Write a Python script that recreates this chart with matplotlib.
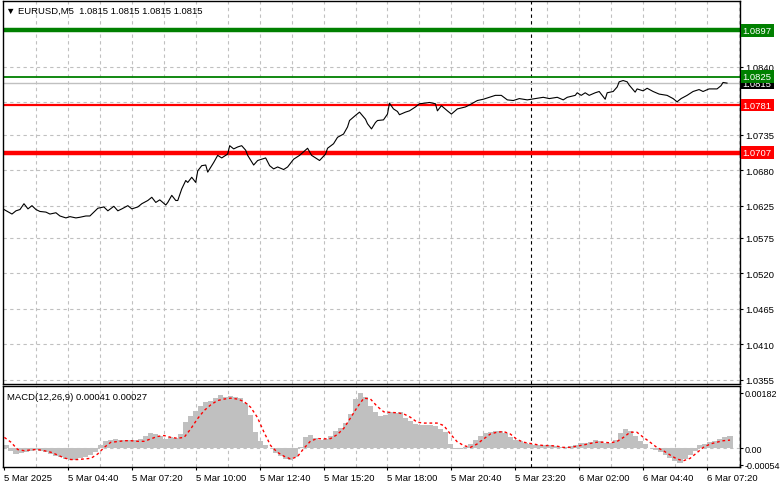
import matplotlib.pyplot as plt
import numpy as np

plt.rcParams['font.family'] = ['Liberation Sans', 'DejaVu Sans']
plt.rcParams['axes.unicode_minus'] = False

# EURUSD M5 - x is bar index counted from the first bar (5 Mar 02:00), 1 bar = 5 min
price_t = [0, 4, 6, 8, 10, 12, 14, 16, 18, 21, 23, 26, 28, 31, 33, 36, 38, 41, 43, 45,
           47, 50, 52, 55, 57, 59, 62, 64, 67, 69, 72, 74, 76, 78, 81, 82, 84, 86, 87, 89,
           91, 92, 94, 96, 97, 99, 101, 102, 105, 107, 109, 112, 113, 115, 117, 119, 121,
           122, 125, 127, 131, 133, 135, 137, 140, 142, 145, 148, 152, 154, 157, 158, 161, 162, 165, 167, 170,
           172, 173, 176, 178, 181, 182, 184, 186, 187, 190, 192, 193, 195, 197, 198, 201, 203, 206, 208, 211,
           213, 216, 217, 219, 222, 224, 227, 231, 233, 237, 240, 243,
           246, 249, 252, 255, 258, 262, 266, 270, 273, 277, 280, 282, 286, 287, 289, 291, 293, 296, 298, 301,
           302, 305, 307, 308, 310, 312, 313, 316, 317, 320, 322, 325, 328, 332, 335, 337, 339, 342, 345, 348,
           350, 353, 357, 359, 360, 362]
price = [1.0619, 1.0612, 1.0617, 1.0619, 1.0628, 1.0620, 1.0625, 1.0619, 1.0616, 1.0615,
         1.0612, 1.0614, 1.0609, 1.0606, 1.0608, 1.0606, 1.0607, 1.0609, 1.0609, 1.0615,
         1.0621, 1.0623, 1.0617, 1.0624, 1.0617, 1.0620, 1.0625, 1.0620, 1.0623, 1.0628,
         1.0633, 1.0638, 1.0630, 1.0634, 1.0626, 1.0630, 1.0641, 1.0633, 1.0633, 1.0651,
         1.0664, 1.0661, 1.0669, 1.0661, 1.0679, 1.0687, 1.0688, 1.0677, 1.0692, 1.0703,
         1.0699, 1.0705, 1.0718, 1.0713, 1.0716, 1.0718, 1.0711,
         1.0703, 1.0688, 1.0695, 1.0699, 1.0687, 1.0682, 1.0685, 1.0681, 1.0685, 1.0697,
         1.0703, 1.0714, 1.0703, 1.0697, 1.0695, 1.0705, 1.0714, 1.0721, 1.0731, 1.0736,
         1.0747, 1.0757, 1.0765, 1.0770, 1.0759, 1.0752, 1.0744, 1.0754, 1.0757, 1.0758,
         1.0767, 1.0784, 1.0775, 1.0771, 1.0766, 1.0770, 1.0772, 1.0778, 1.0783, 1.0784,
         1.0785, 1.0783, 1.0772, 1.0780, 1.0772, 1.0767, 1.0775, 1.0778, 1.0781, 1.0788,
         1.0790, 1.0793,
         1.0796, 1.0796, 1.0789, 1.0788, 1.0791, 1.0789, 1.0791, 1.0793, 1.0791, 1.0793,
         1.0789, 1.0793, 1.0796, 1.0800, 1.0796, 1.0800, 1.0796, 1.0800, 1.0802, 1.0790,
         1.0800, 1.0802, 1.0809, 1.0817, 1.0819, 1.0817, 1.0812, 1.0801, 1.0806, 1.0803,
         1.0807, 1.0802, 1.0798, 1.0796, 1.0791, 1.0786, 1.0791, 1.0796, 1.0802, 1.0805,
         1.0802, 1.0806, 1.0806, 1.0811, 1.0816, 1.0815]

# MACD(12,26,9) main (histogram), sampled every 2.5 bars
macd_main = [0.00012, -0.00008, -0.00019, -0.00015, -0.00011, -0.00008, -0.00005, -0.00008, -0.00013, -0.00019,
             -0.00024, -0.00030, -0.00035, -0.00037, -0.00037, -0.00033, -0.00030, -0.00022, -0.00011, 0.00012,
             0.00024, 0.00028, 0.00030, 0.00027, 0.00026, 0.00027, 0.00026, 0.00030, 0.00039, 0.00050,
             0.00047, 0.00039, 0.00031, 0.00036, 0.00034, 0.00047, 0.00088, 0.00105, 0.00124, 0.00140,
             0.00151, 0.00156, 0.00165, 0.00174, 0.00170, 0.00172, 0.00170, 0.00165, 0.00148, 0.00108,
             0.00055, 0.00025, 0.00012, 0.00001, -0.00014, -0.00026, -0.00035, -0.00040, -0.00030, 0.00003,
             0.00036, 0.00044, 0.00033, 0.00026, 0.00031, 0.00040, 0.00056, 0.00068, 0.00082, 0.00112,
             0.00162, 0.00182, 0.00168, 0.00140, 0.00118, 0.00105, 0.00110, 0.00118, 0.00115, 0.00118,
             0.00099, 0.00091, 0.00080, 0.00077, 0.00077, 0.00077, 0.00075, 0.00064, 0.00053, 0.00015,
             -0.00001, -0.00001, 0.00003, 0.00015, 0.00028, 0.00042, 0.00051, 0.00054, 0.00057, 0.00057,
             0.00050, 0.00038, 0.00027, 0.00023, 0.00018, 0.00015, 0.00012, 0.00011, 0.00011, 0.00010,
             0.00006, 0.00004, 0.00003, 0.00007, 0.00012, 0.00017, 0.00019, 0.00022, 0.00026, 0.00024,
             0.00016, 0.00017, 0.00028, 0.00050, 0.00064, 0.00058, 0.00040, 0.00025, 0.00013, 0.00002,
             -0.00006, -0.00013, -0.00021, -0.00032, -0.00043, -0.00049, -0.00035, -0.00022, -0.00008, 0.00011,
             0.00014, 0.00022, 0.00025, 0.00029, 0.00036, 0.00041]

# signal line, sampled every 10/3 bars
macd_signal = [0.00036, 0.00020, -0.00004, -0.00008, -0.00005, -0.00004, -0.00008, -0.00013, -0.00022, -0.00032,
               -0.00037, -0.00037, -0.00035, -0.00033, -0.00019, 0.00003, 0.00020, 0.00022, 0.00025, 0.00025,
               0.00023, 0.00023, 0.00031, 0.00039, 0.00042, 0.00036, 0.00033, 0.00036, 0.00064, 0.00097,
               0.00124, 0.00143, 0.00157, 0.00162, 0.00165, 0.00162, 0.00154, 0.00135, 0.00102, 0.00053,
               0.00009, -0.00013, -0.00026, -0.00035, -0.00028, 0.00000, 0.00024, 0.00032, 0.00031, 0.00032,
               0.00045, 0.00066, 0.00100, 0.00135, 0.00165, 0.00162, 0.00138, 0.00120, 0.00118, 0.00117,
               0.00113, 0.00102, 0.00086, 0.00083, 0.00083, 0.00083, 0.00075, 0.00047, 0.00022, 0.00009,
               0.00003, 0.00014, 0.00031, 0.00047, 0.00053, 0.00055, 0.00047, 0.00029, 0.00020, 0.00016,
               0.00012, 0.00009, 0.00009, 0.00007, 0.00003, 0.00003, 0.00007, 0.00011, 0.00016, 0.00020,
               0.00020, 0.00018, 0.00022, 0.00036, 0.00053, 0.00053, 0.00036, 0.00020, 0.00003, -0.00008,
               -0.00022, -0.00035, -0.00041, -0.00033, -0.00015, 0.00003, 0.00014, 0.00020, 0.00025, 0.00027]

levels = [1.0897, 1.0825, 1.0781, 1.0707]
level_colors = ['#008000', '#008000', '#FF0000', '#FF0000']
level_widths = [3.2, 1.3, 1.6, 3.2]
bid = 1.0815

price_ticks = [1.0840, 1.0785, 1.0735, 1.0680, 1.0625, 1.0575, 1.0520, 1.0465, 1.0410, 1.0355]
price_ticklabels = ['1.0840', '', '1.0735', '1.0680', '1.0625', '1.0575', '1.0520', '1.0465', '1.0410', '1.0355']
macd_ticks = [0.00182, 0.0, -0.00054]
macd_ticklabels = ['0.00182', '0.00', '-0.00054']
time_ticks = [0, 32, 64, 96, 128, 160, 192, 224, 256, 288, 320, 352]
time_labels = ['5 Mar 2025', '5 Mar 04:40', '5 Mar 07:20', '5 Mar 10:00', '5 Mar 12:40', '5 Mar 15:20',
               '5 Mar 18:00', '5 Mar 20:40', '5 Mar 23:20', '6 Mar 02:00', '6 Mar 04:40', '6 Mar 07:20']
day_sep = 264

fs = 6.8
grid_col = '#C0C0C0'
dash = (0, (3, 3))

fig = plt.figure(figsize=(7.81, 4.89), dpi=100)
ax = fig.add_axes([3/781, 104/489, 737/781, 383/489])
ax2 = fig.add_axes([3/781, 21/489, 737/781, 81/489])

xlim = (-0.5, 368.5)
for a in (ax, ax2):
    a.set_xlim(xlim)
    for b in range(16, 369, 16):
        a.axvline(b, color=grid_col, ls=dash, lw=0.8, zorder=0)
    a.axvline(day_sep, color='black', ls=(0, (3, 3)), lw=0.8, zorder=1)
    for s in a.spines.values():
        s.set_color('black')
        s.set_linewidth(1)
    a.yaxis.tick_right()
    a.tick_params(axis='both', direction='out', length=2.5, labelsize=fs, pad=1.5, width=0.8)

# main price panel
ax.set_ylim(1.03485, 1.09423)
for v in price_ticks:
    ax.axhline(v, color=grid_col, ls=dash, lw=0.8, zorder=0)
ax.set_yticks(price_ticks)
ax.set_yticklabels(price_ticklabels)
ax.set_xticks([])

ax.axhline(bid, color='#C0C0C0', lw=1.0, zorder=1)
for v, c, w in zip(levels, level_colors, level_widths):
    ax.axhline(v, color=c, lw=w, zorder=2)
ax.plot(price_t, price, color='black', lw=0.8, zorder=3)

box_kw = dict(xycoords=ax.get_yaxis_transform(), xytext=(2.0, 0), textcoords='offset points',
              ha='left', va='center', color='white', fontsize=fs, annotation_clip=False)
ax.annotate('%.4f' % bid, xy=(1, bid), zorder=6,
            bbox=dict(boxstyle='square,pad=0.2', fc='black', ec='none'), **box_kw)
for v, c in zip(levels, level_colors):
    ax.annotate('%.4f' % v, xy=(1, v), zorder=7,
                bbox=dict(boxstyle='square,pad=0.2', fc=c, ec='none'), **box_kw)

fig.text(6/781, 1 - 11/489, '\u25bc EURUSD,M5  1.0815 1.0815 1.0815 1.0815',
         fontsize=fs, va='center', ha='left')

# MACD panel
ax2.set_ylim(-0.000615, 0.00205)
ax2.axhline(0, color=grid_col, ls=dash, lw=0.8, zorder=0)
hist_t = np.arange(1, len(macd_main) + 1) * 2.5 - 1.5
sig_t = np.arange(len(macd_signal)) * 10 / 3 + 0.17
ax2.bar(hist_t, macd_main, width=2.6, color='#C0C0C0', lw=0, zorder=2)
ax2.plot(sig_t, macd_signal, color='#FF0000', lw=1.0, ls=(0, (2, 2)), zorder=3)
ax2.set_yticks(macd_ticks)
ax2.set_yticklabels(macd_ticklabels)
ax2.tick_params(axis='y', labelsize=6.5, pad=1.0)
ax2.set_xticks(time_ticks)
ax2.set_xticklabels(time_labels, ha='left')
fig.text(7/781, 1 - 398/489, 'MACD(12,26,9) 0.00041 0.00027', fontsize=fs, va='center', ha='left')

plt.savefig('out.png', dpi=100)
